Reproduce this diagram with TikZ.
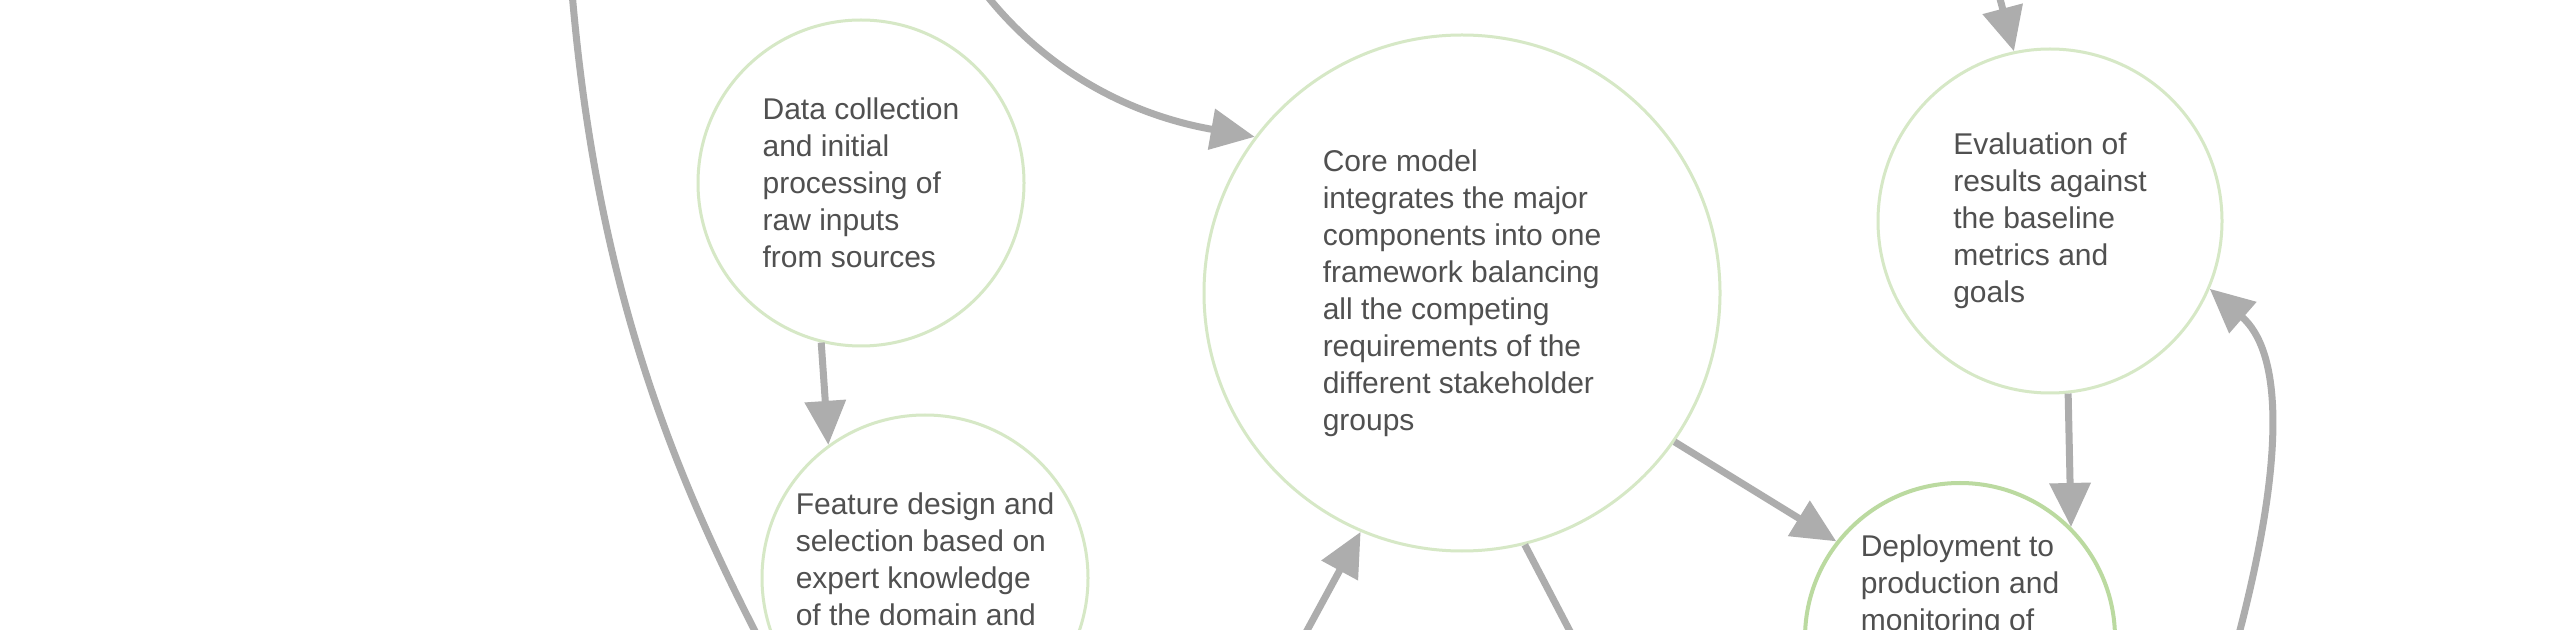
\documentclass[tikz,border=0pt]{standalone}
\usepackage{fontspec}
\setmainfont{Liberation Sans}
\usetikzlibrary{arrows.meta}
\definecolor{linegray}{HTML}{ADADAD}
\definecolor{textgray}{HTML}{505050}
\definecolor{ringgreen}{HTML}{D6E8C6}
\definecolor{ringgreenE}{HTML}{BBDAA0}
\begin{document}
\begin{tikzpicture}[x=0.5pt,y=-0.5pt,
  concept/.style={circle, draw=ringgreen, line width=1.5pt, fill=white, inner sep=0pt,
    align=left, font=\fontsize{15}{18.5}\selectfont, text=textgray},
  link/.style={draw=linegray, line width=3.5pt, -{Triangle[length=22pt,width=20pt]}},
  plainlink/.style={draw=linegray, line width=3.5pt}]
\useasboundingbox (0,0) rectangle (2560,630);
\fill[white] (0,0) rectangle (2560,630);

\node[concept, minimum size=163pt] (A) at (861,183)
  {Data collection\\and initial\\processing of\\raw inputs\\from sources};
\node[concept, minimum size=258pt] (B) at (1462,293)
  {Core model\\integrates the major\\components into one\\framework balancing\\all the competing\\requirements of the\\different stakeholder\\groups};
\node[concept, minimum size=172pt] (C) at (2050,221)
  {Evaluation of\\results against\\the baseline\\metrics and\\goals};
\node[concept, minimum size=163pt] (D) at (925,578)
  {Feature design and\\selection based on\\expert knowledge\\of the domain and\\of the data};
\node[concept, minimum size=155pt, draw=ringgreenE, line width=2pt] (E) at (1960,638)
  {Deployment to\\production and\\monitoring of\\the running\\system over\\time};

\coordinate (L1) at (571,-20);
\coordinate (L2) at (770,660);
\coordinate (T1) at (975,-20);
\coordinate (Ct) at (1995,-20);
\coordinate (R1) at (2232,660);
\coordinate (Bb) at (1291,660);
\coordinate (Bo) at (1585,660);

\draw[plainlink] (L1) .. controls (595,280) and (670,470) .. (L2);
\draw[link] (T1) .. controls (1040,70) and (1130,115) .. (B.143);
\draw[link] (Ct) -- (C.102);
\draw[link] (A.-104) -- (D.126);
\draw[link] (C.-84) -- (E.45);
\draw[link] (B.-35) -- (E.142);
\draw[link] (R1) .. controls (2290,450) and (2280,350) .. (C.-23);
\draw[link] (Bb) -- (B.-113);
\draw[plainlink] (B.-76) -- (Bo);
\end{tikzpicture}
\end{document}
